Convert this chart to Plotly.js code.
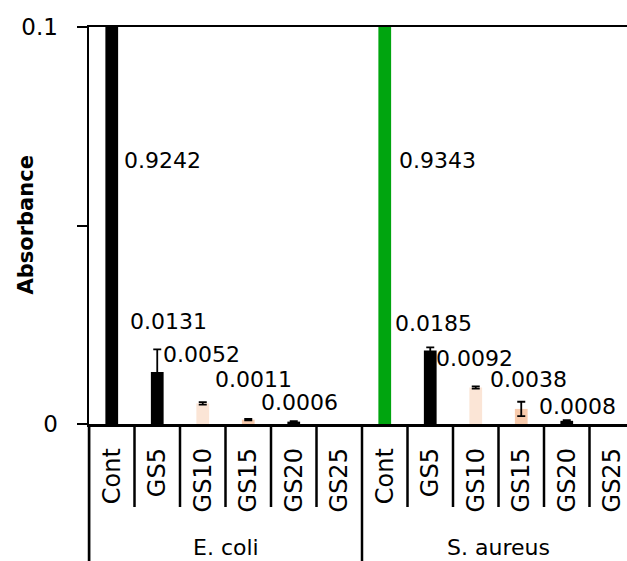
<!DOCTYPE html>
<html>
<head>
<meta charset="utf-8">
<script src="https://cdn.plot.ly/plotly-3.0.1.min.js"></script>
<style>html,body{margin:0;padding:0;background:#fff;}#chart{width:627px;height:561px;}</style>
</head>
<body>
<div id="chart"></div>
<script>
// ---- data ----
const groups = ['E. coli', 'S. aureus'];
const samples = ['Cont', 'GS5', 'GS10', 'GS15', 'GS20', 'GS25'];
const ecoliValues = [0.9242, 0.0131, 0.0052, 0.0011, 0.0006, 0];
const saureusValues = [0.9343, 0.0185, 0.0092, 0.0038, 0.0008, 0];
const ecoliErrors = [0, 0.0057, 0.0003, 0.0002, 0.0001, 0];
const saureusErrors = [0, 0.0008, 0.0003, 0.0018, 0.0002, 0];
const yTickVals = [0, 0.05, 0.1];
const yTickText = ['0', '', '0.1'];

// ---- styles / layout helpers ----
const ecoliColors = ['#000000', '#000000', '#FBE5D6', '#F8CBAD', '#000000', 'rgba(0,0,0,0)'];
const saureusColors = ['#00A50F', '#000000', '#FBE5D6', '#F8CBAD', '#000000', 'rgba(0,0,0,0)'];
// label placement (pixel shift from bar centre, height in axis units)
const labelShift = [10, -29, -42, -35, -35, 0, 12, -37, -42, -33, -30, 0];
const labelY = [0.0665, 0.0257, 0.0174, 0.0113, 0.0055, 0, 0.0665, 0.0254, 0.0164, 0.0113, 0.0043, 0];

const FONT = 'DejaVu Sans, Verdana, sans-serif';
const allValues = ecoliValues.concat(saureusValues);
const allErrors = ecoliErrors.concat(saureusErrors);
const allColors = ecoliColors.concat(saureusColors);
const allSamples = samples.concat(samples);
const xIdx = allSamples.map((_, i) => i);

const trace = {
  type: 'bar',
  x: xIdx,
  y: allValues,
  width: 0.28,
  marker: {color: allColors, line: {width: 0}},
  error_y: {type: 'data', array: allErrors.map((e, i) => (allValues[i] > 0 && e > 0) ? e : NaN),
            visible: true, color: '#000', thickness: 1.8, width: 4},
  hoverinfo: 'skip'
};

const plotH = 561 - 27 - 137;
const shapes = [];
// category separators
for (let i = 0; i <= allSamples.length; i++) {
  const isGroup = (i % samples.length === 0);
  shapes.push({
    type: 'line', xref: 'x', yref: 'paper',
    x0: i - 0.5, x1: i - 0.5, y0: 0, y1: isGroup ? -137 / plotH : -83 / plotH,
    line: {color: '#000', width: 2.5}
  });
}
// y-axis line extension below plot
shapes.push({type: 'line', xref: 'paper', yref: 'paper', x0: 0, x1: 0, y0: 0, y1: -137 / plotH,
  line: {color: '#000', width: 2.5}});

const annotations = [];
allValues.forEach((v, i) => {
  if (v > 0) {
    annotations.push({
      x: i, y: labelY[i], xref: 'x', yref: 'y', xanchor: 'left', yanchor: 'middle',
      xshift: labelShift[i], text: v.toFixed(4), showarrow: false,
      font: {family: FONT, size: 22, color: '#000'}
    });
  }
});
groups.forEach((g, gi) => {
  annotations.push({
    x: gi * samples.length + (samples.length - 1) / 2, y: -123 / plotH,
    xref: 'x', yref: 'paper', xanchor: 'center', yanchor: 'middle',
    text: g, showarrow: false, font: {family: FONT, size: 22, color: '#000'}
  });
});
// y axis title
annotations.push({
  x: 0, xref: 'paper', xshift: -64, y: 0.5, yref: 'paper',
  xanchor: 'center', yanchor: 'middle', textangle: -90,
  text: 'Absorbance', showarrow: false,
  font: {family: FONT, size: 21, color: '#000', weight: 'bold'}
});

const layout = {
  width: 627, height: 561,
  margin: {l: 89, r: 0, t: 27, b: 137, pad: 0},
  paper_bgcolor: '#fff', plot_bgcolor: '#fff',
  showlegend: false,
  xaxis: {
    type: 'linear', range: [-0.5, -0.5 + 538 / 45.5], fixedrange: true,
    tickvals: xIdx, ticktext: allSamples, tickangle: -90, ticks: '',
    ticklabelstandoff: 12,
    tickfont: {family: FONT, size: 24, color: '#000'},
    showline: true, linecolor: '#000', linewidth: 2.5, mirror: true,
    showgrid: false, zeroline: false
  },
  yaxis: {
    range: [0, 0.1], fixedrange: true,
    tickvals: yTickVals, ticktext: yTickText,
    ticks: 'outside', ticklen: 10, tickwidth: 2, tickcolor: '#000',
    ticklabelstandoff: 14,
    tickfont: {family: FONT, size: 23, color: '#000'},
    showline: true, linecolor: '#000', linewidth: 2.5,
    showgrid: false, zeroline: false
  },
  shapes: shapes,
  annotations: annotations
};

Plotly.newPlot('chart', [trace], layout, {displayModeBar: false, staticPlot: true});
</script>
</body>
</html>
